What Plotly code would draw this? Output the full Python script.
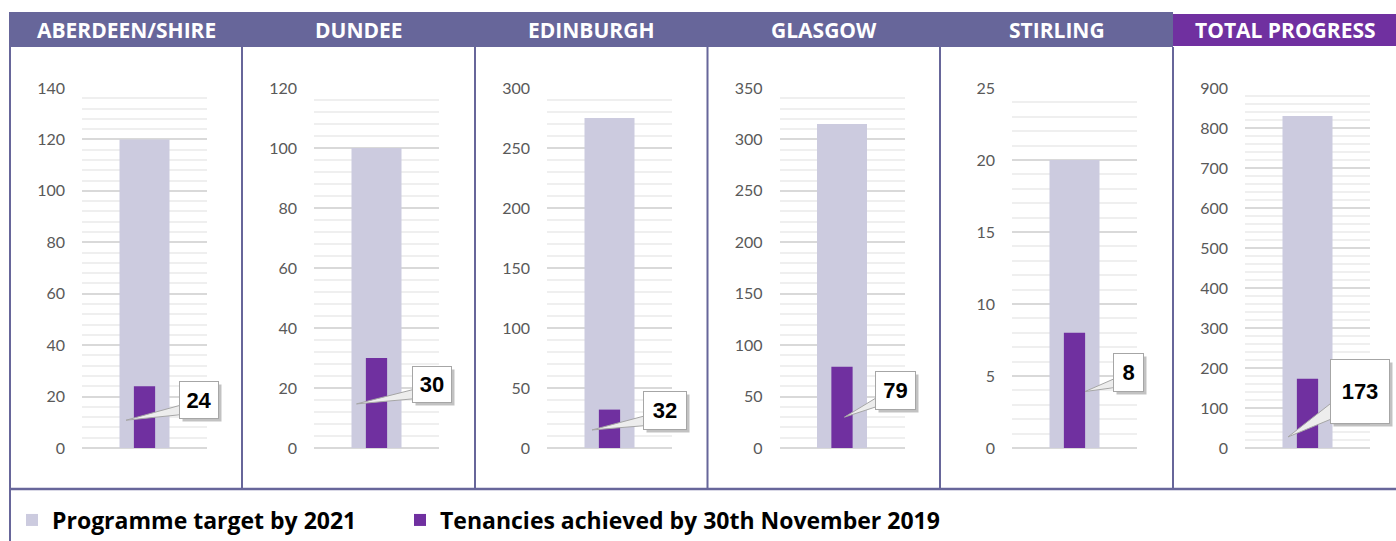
import plotly.graph_objects as go

# ---------------- data ----------------
regions = ["ABERDEEN/SHIRE", "DUNDEE", "EDINBURGH", "GLASGOW", "STIRLING", "TOTAL PROGRESS"]
targets = [120, 100, 275, 315, 20, 830]
achieved = [24, 30, 32, 79, 8, 173]
axis_max = [140, 120, 300, 350, 25, 900]
major_step = [20, 20, 50, 50, 5, 100]
minor_step = [4, 4, 10, 10, 1, 20]
series_names = ["Programme target by 2021", "Tenancies achieved by 30th November 2019"]

# ---------------- layout / style ----------------
W, H = 1396, 541
def fx(p): return p / W
def fy(p): return 1 - p / H

panel_left = [10, 242, 475, 707.5, 940, 1173]
plot_off, plot_w = 72, 125
y_top_px, y_zero_px = 88, 448
header_top, header_bot, frame_bot = 12, 47, 489

band_color = "#67669A"
total_color = "#7030A0"
target_color = "#CCCBDF"
ach_color = "#7030A0"

# callout placement (tip offset in category units, tip height as fraction of value,
# box offset in px, box size in px)
tip_dx = [-0.148, -0.16, -0.14, 0.02, 0.084, -0.156]
tip_frac = [0.45, 0.49, 0.47, 0.38, 0.49, 0.16]
box_ax = [73, 75, 73, 51, 43, 72]
box_ay = [-20, -19, -19, -27, -19, -45]
box_w = [38, 38, 42, 39, 29, 58]
box_h = [36, 35, 37, 37, 37, 63]

tick_font = dict(family="Lato, Carlito, Calibri, sans-serif", size=16, color="#595959")
head_font = dict(family="Open Sans, Lato, sans-serif", size=21, color="white", weight="bold")
call_font = dict(family="Liberation Sans Narrow, Arial Narrow, Liberation Sans, Arial, sans-serif",
                 size=22, color="black", weight="bold")
legend_font = dict(family="Open Sans, Lato, sans-serif", size=23, color="black", weight="bold")

fig = go.Figure()
shapes = []
annotations = []

for i, name in enumerate(regions):
    sfx = "" if i == 0 else str(i + 1)
    xa, ya = "x" + sfx, "y" + sfx
    fig.add_trace(go.Bar(
        x=[0], y=[targets[i]], width=0.4, marker=dict(color=target_color, line=dict(width=0)),
        name=series_names[0], legend="legend", showlegend=(i == 0),
        xaxis=xa, yaxis=ya, hoverinfo="skip"))
    fig.add_trace(go.Bar(
        x=[0], y=[achieved[i]], width=0.17, marker=dict(color=ach_color, line=dict(width=0)),
        name=series_names[1], legend="legend2", showlegend=(i == 0),
        xaxis=xa, yaxis=ya, hoverinfo="skip"))

    x0 = panel_left[i] + plot_off
    fig.layout["xaxis" + sfx] = dict(
        domain=[fx(x0), fx(x0 + plot_w)], range=[-0.5, 0.5], anchor=ya,
        showgrid=False, zeroline=False, showticklabels=False, ticks="", fixedrange=True)
    fig.layout["yaxis" + sfx] = dict(
        domain=[fy(y_zero_px), fy(y_top_px)], range=[0, axis_max[i]], anchor=xa,
        tickmode="linear", tick0=0, dtick=major_step[i], tickfont=tick_font,
        showgrid=True, gridcolor="#D9D9D9", gridwidth=1.5,
        zeroline=True, zerolinecolor="#D9D9D9", zerolinewidth=2,
        minor=dict(dtick=minor_step[i], tick0=0, showgrid=True, gridcolor="#EFEFEF", gridwidth=1.5),
        ticks="", ticklabelstandoff=16, showline=False, fixedrange=True, automargin=False)

    # header text
    pr = panel_left[i + 1] if i + 1 < len(panel_left) else W + 10
    cx = (panel_left[i] + pr) / 2 if i < 5 else (panel_left[i] + W) / 2 + 1
    annotations.append(dict(
        xref="paper", yref="paper", x=fx(cx), y=fy((header_top + header_bot) / 2),
        text=name, showarrow=False, font=head_font,
        xanchor="center", yanchor="middle"))

    # callout wedge
    tx = tip_dx[i]
    ty = achieved[i] * tip_frac[i]
    bl = box_ax[i] - box_w[i] / 2
    bb = box_ay[i] + box_h[i] / 2
    p1 = (bl + 8, bb - 0.42 * box_h[i])
    p2 = (bl + 8, bb - 0.12 * box_h[i])
    path = "M0,0 L%.1f,%.1f L%.1f,%.1f Z" % (p1[0], -p1[1], p2[0], -p2[1])
    shapes.append(dict(
        type="path", xref=xa, yref=ya, xsizemode="pixel", ysizemode="pixel",
        xanchor=tx, yanchor=ty, path=path, fillcolor="#EDEDED",
        line=dict(color="#A6A6A6", width=1), layer="above"))
    # shadow (no text)
    annotations.append(dict(
        xref=xa, yref=ya, x=tx, y=ty, ax=box_ax[i], ay=box_ay[i],
        text=" ", font=call_font,
        showarrow=True, arrowcolor="rgba(0,0,0,0)", arrowwidth=0.1,
        bgcolor="rgba(120,120,120,0.45)", borderwidth=1, bordercolor="rgba(0,0,0,0)",
        width=box_w[i], height=box_h[i], borderpad=0, xshift=3, yshift=-3))
    annotations.append(dict(
        xref=xa, yref=ya, x=tx, y=ty, ax=box_ax[i], ay=box_ay[i],
        text=str(achieved[i]), font=call_font,
        showarrow=True, arrowcolor="rgba(0,0,0,0)", arrowwidth=0.1,
        bgcolor="white", borderwidth=1, bordercolor="#A6A6A6",
        width=box_w[i], height=box_h[i], borderpad=0, valign="middle", align="center"))

# header bands
shapes.append(dict(type="rect", xref="paper", yref="paper", x0=fx(10), x1=fx(1173),
                   y0=fy(header_bot), y1=fy(header_top), fillcolor=band_color, line=dict(width=0),
                   layer="below"))
shapes.append(dict(type="rect", xref="paper", yref="paper", x0=fx(1173), x1=1,
                   y0=fy(header_bot - 1), y1=fy(header_top + 2), fillcolor=total_color, line=dict(width=0),
                   layer="below"))
# panel borders
for xl in panel_left[1:]:
    shapes.append(dict(type="line", xref="paper", yref="paper", x0=fx(xl), x1=fx(xl),
                       y0=fy(header_bot), y1=fy(frame_bot), line=dict(color=band_color, width=2)))
shapes.append(dict(type="line", xref="paper", yref="paper", x0=fx(10), x1=fx(10),
                   y0=fy(header_top), y1=0, line=dict(color=band_color, width=2)))
shapes.append(dict(type="line", xref="paper", yref="paper", x0=fx(10), x1=1,
                   y0=fy(frame_bot), y1=fy(frame_bot), line=dict(color=band_color, width=2.5)))

fig.update_layout(
    width=W, height=H, margin=dict(l=0, r=0, t=0, b=0, autoexpand=False),
    paper_bgcolor="white", plot_bgcolor="rgba(0,0,0,0)",
    barmode="overlay", shapes=shapes, annotations=annotations,
    legend=dict(x=fx(12), y=fy(520), xanchor="left", yanchor="middle", orientation="h",
                font=legend_font, bgcolor="rgba(0,0,0,0)", itemwidth=30),
    legend2=dict(x=fx(400), y=fy(520), xanchor="left", yanchor="middle", orientation="h",
                 font=legend_font, bgcolor="rgba(0,0,0,0)", itemwidth=30),
)

fig.write_html("out.html", config={"displayModeBar": False},
               post_script="document.body.style.margin='0';")
